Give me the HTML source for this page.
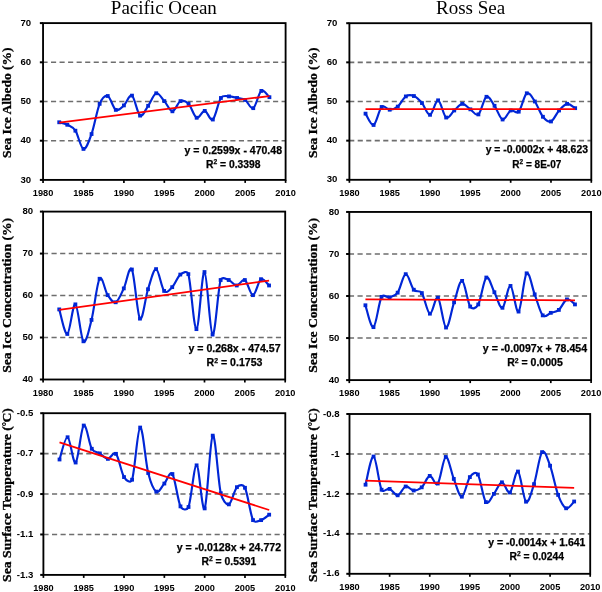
<!DOCTYPE html>
<html><head><meta charset="utf-8"><style>
html,body{margin:0;padding:0;background:#fff;}
svg{display:block;will-change:transform;}
</style></head><body>
<svg width="602" height="592" viewBox="0 0 602 592">
<rect width="602" height="592" fill="#fff"/>
<text x="163.85" y="13.5" font-family="Liberation Serif, serif" font-size="19" text-anchor="middle">Pacific Ocean</text>
<text x="470.6" y="13.5" font-family="Liberation Serif, serif" font-size="19" text-anchor="middle">Ross Sea</text>
<g><line x1="43.05" y1="62.3" x2="285.1" y2="62.3" stroke="#6e6e6e" stroke-width="1.6" stroke-dasharray="5.12 3.42" stroke-dashoffset="0.59"/><line x1="43.05" y1="101.5" x2="285.1" y2="101.5" stroke="#6e6e6e" stroke-width="1.6" stroke-dasharray="5.12 3.42" stroke-dashoffset="0.59"/><line x1="43.05" y1="140.7" x2="285.1" y2="140.7" stroke="#6e6e6e" stroke-width="1.6" stroke-dasharray="5.12 3.42" stroke-dashoffset="0.59"/><line x1="39.85" y1="23.1" x2="43.05" y2="23.1" stroke="#000" stroke-width="2"/><line x1="39.85" y1="62.3" x2="43.05" y2="62.3" stroke="#000" stroke-width="2"/><line x1="39.85" y1="101.5" x2="43.05" y2="101.5" stroke="#000" stroke-width="2"/><line x1="39.85" y1="140.7" x2="43.05" y2="140.7" stroke="#000" stroke-width="2"/><line x1="39.85" y1="179.9" x2="43.05" y2="179.9" stroke="#000" stroke-width="2"/><line x1="43.05" y1="179.9" x2="43.05" y2="182.9" stroke="#000" stroke-width="1.7"/><line x1="83.47" y1="179.9" x2="83.47" y2="182.9" stroke="#000" stroke-width="1.7"/><line x1="123.9" y1="179.9" x2="123.9" y2="182.9" stroke="#000" stroke-width="1.7"/><line x1="164.32" y1="179.9" x2="164.32" y2="182.9" stroke="#000" stroke-width="1.7"/><line x1="204.75" y1="179.9" x2="204.75" y2="182.9" stroke="#000" stroke-width="1.7"/><line x1="245.18" y1="179.9" x2="245.18" y2="182.9" stroke="#000" stroke-width="1.7"/><line x1="285.6" y1="179.9" x2="285.6" y2="182.9" stroke="#000" stroke-width="1.7"/><path d="M59.22,122.28 C60.57,122.69 64.61,123.38 67.31,124.78 C70,126.19 72.7,126.68 75.39,130.7 C78.08,134.73 80.78,148.38 83.47,148.93 C86.17,149.49 88.86,141.55 91.56,134.04 C94.26,126.52 96.95,110.19 99.65,103.85 C101.85,98.67 105.03,95.01 107.73,96.01 C110.43,97.02 113.12,108.32 115.82,109.89 C118.51,111.46 121.2,107.8 123.9,105.42 C126.59,103.04 129.29,93.92 131.99,95.62 C134.68,97.32 137.38,113.91 140.07,115.61 C142.76,117.31 145.46,109.54 148.16,105.81 C150.85,102.09 153.55,94.05 156.24,93.27 C158.94,92.48 161.63,98.1 164.32,101.11 C167.02,104.11 169.72,111.3 172.41,111.3 C175.11,111.3 177.8,102.35 180.5,101.11 C183.19,99.87 185.89,101.08 188.58,103.85 C191.28,106.63 193.97,116.59 196.66,117.77 C199.36,118.94 202.06,110.61 204.75,110.91 C207.44,111.2 210.14,121.69 212.83,119.53 C215.53,117.38 218.23,101.83 220.92,97.97 C223.28,94.6 226.31,96.4 229,96.4 C231.7,96.4 234.4,97.38 237.09,97.97 C239.79,98.56 242.48,98.23 245.18,99.93 C247.87,101.63 250.56,109.67 253.26,108.16 C255.95,106.66 258.65,92.75 261.35,90.92 C264.04,89.09 268.08,96.14 269.43,97.19" fill="none" stroke="#0026d6" stroke-width="2.15" stroke-linejoin="round"/><rect x="57.32" y="120.38" width="3.8" height="3.8" fill="#0026d6"/><rect x="65.41" y="122.88" width="3.8" height="3.8" fill="#0026d6"/><rect x="73.49" y="128.8" width="3.8" height="3.8" fill="#0026d6"/><rect x="81.57" y="147.03" width="3.8" height="3.8" fill="#0026d6"/><rect x="89.66" y="132.14" width="3.8" height="3.8" fill="#0026d6"/><rect x="97.75" y="101.95" width="3.8" height="3.8" fill="#0026d6"/><rect x="105.83" y="94.11" width="3.8" height="3.8" fill="#0026d6"/><rect x="113.92" y="107.99" width="3.8" height="3.8" fill="#0026d6"/><rect x="122" y="103.52" width="3.8" height="3.8" fill="#0026d6"/><rect x="130.09" y="93.72" width="3.8" height="3.8" fill="#0026d6"/><rect x="138.17" y="113.71" width="3.8" height="3.8" fill="#0026d6"/><rect x="146.25" y="103.91" width="3.8" height="3.8" fill="#0026d6"/><rect x="154.34" y="91.37" width="3.8" height="3.8" fill="#0026d6"/><rect x="162.42" y="99.21" width="3.8" height="3.8" fill="#0026d6"/><rect x="170.51" y="109.4" width="3.8" height="3.8" fill="#0026d6"/><rect x="178.59" y="99.21" width="3.8" height="3.8" fill="#0026d6"/><rect x="186.68" y="101.95" width="3.8" height="3.8" fill="#0026d6"/><rect x="194.76" y="115.87" width="3.8" height="3.8" fill="#0026d6"/><rect x="202.85" y="109.01" width="3.8" height="3.8" fill="#0026d6"/><rect x="210.93" y="117.63" width="3.8" height="3.8" fill="#0026d6"/><rect x="219.02" y="96.07" width="3.8" height="3.8" fill="#0026d6"/><rect x="227.1" y="94.5" width="3.8" height="3.8" fill="#0026d6"/><rect x="235.19" y="96.07" width="3.8" height="3.8" fill="#0026d6"/><rect x="243.28" y="98.03" width="3.8" height="3.8" fill="#0026d6"/><rect x="251.36" y="106.26" width="3.8" height="3.8" fill="#0026d6"/><rect x="259.45" y="89.02" width="3.8" height="3.8" fill="#0026d6"/><rect x="267.53" y="95.29" width="3.8" height="3.8" fill="#0026d6"/><line x1="59.22" y1="122.55" x2="269.43" y2="96.05" stroke="#ff0000" stroke-width="1.75"/><rect x="43.05" y="23.1" width="242.55" height="156.8" fill="none" stroke="#000" stroke-width="1.85"/><text x="31.05" y="25.7" font-family="Liberation Sans, sans-serif" font-weight="bold" font-size="9.6" text-anchor="end">70</text><text x="31.05" y="64.9" font-family="Liberation Sans, sans-serif" font-weight="bold" font-size="9.6" text-anchor="end">60</text><text x="31.05" y="104.1" font-family="Liberation Sans, sans-serif" font-weight="bold" font-size="9.6" text-anchor="end">50</text><text x="31.05" y="143.3" font-family="Liberation Sans, sans-serif" font-weight="bold" font-size="9.6" text-anchor="end">40</text><text x="31.05" y="182.5" font-family="Liberation Sans, sans-serif" font-weight="bold" font-size="9.6" text-anchor="end">30</text><text x="43.05" y="196.1" font-family="Liberation Sans, sans-serif" font-weight="bold" font-size="9.2" text-anchor="middle">1980</text><text x="83.47" y="196.1" font-family="Liberation Sans, sans-serif" font-weight="bold" font-size="9.2" text-anchor="middle">1985</text><text x="123.9" y="196.1" font-family="Liberation Sans, sans-serif" font-weight="bold" font-size="9.2" text-anchor="middle">1990</text><text x="164.32" y="196.1" font-family="Liberation Sans, sans-serif" font-weight="bold" font-size="9.2" text-anchor="middle">1995</text><text x="204.75" y="196.1" font-family="Liberation Sans, sans-serif" font-weight="bold" font-size="9.2" text-anchor="middle">2000</text><text x="245.18" y="196.1" font-family="Liberation Sans, sans-serif" font-weight="bold" font-size="9.2" text-anchor="middle">2005</text><text x="285.6" y="196.1" font-family="Liberation Sans, sans-serif" font-weight="bold" font-size="9.2" text-anchor="middle">2010</text><text x="233.3" y="153.5" font-family="Liberation Sans, sans-serif" font-weight="bold" font-size="10.2" stroke="#000" stroke-width="0.25" text-anchor="middle" textLength="97.4" lengthAdjust="spacingAndGlyphs">y = 0.2599x - 470.48</text><text x="233.3" y="168" font-family="Liberation Sans, sans-serif" font-weight="bold" font-size="10.2" stroke="#000" stroke-width="0.25" text-anchor="middle" textLength="54.5" lengthAdjust="spacingAndGlyphs">R<tspan font-size="6.6" dy="-3.6">2</tspan><tspan dy="3.6"> =  0.3398</tspan></text><text transform="translate(10.8,102.7) rotate(-90)" font-family="Liberation Serif, serif" font-weight="bold" font-size="13" stroke="#000" stroke-width="0.3" text-anchor="middle" textLength="110.6" lengthAdjust="spacingAndGlyphs">Sea Ice Albedo (%)</text></g>
<g><line x1="349.4" y1="62.35" x2="590.8" y2="62.35" stroke="#6e6e6e" stroke-width="1.6" stroke-dasharray="5.11 3.4" stroke-dashoffset="0.21"/><line x1="349.4" y1="101.5" x2="590.8" y2="101.5" stroke="#6e6e6e" stroke-width="1.6" stroke-dasharray="5.11 3.4" stroke-dashoffset="0.21"/><line x1="349.4" y1="140.65" x2="590.8" y2="140.65" stroke="#6e6e6e" stroke-width="1.6" stroke-dasharray="5.11 3.4" stroke-dashoffset="0.21"/><line x1="346.2" y1="23.2" x2="349.4" y2="23.2" stroke="#000" stroke-width="2"/><line x1="346.2" y1="62.35" x2="349.4" y2="62.35" stroke="#000" stroke-width="2"/><line x1="346.2" y1="101.5" x2="349.4" y2="101.5" stroke="#000" stroke-width="2"/><line x1="346.2" y1="140.65" x2="349.4" y2="140.65" stroke="#000" stroke-width="2"/><line x1="346.2" y1="179.8" x2="349.4" y2="179.8" stroke="#000" stroke-width="2"/><line x1="349.4" y1="179.8" x2="349.4" y2="182.8" stroke="#000" stroke-width="1.7"/><line x1="389.72" y1="179.8" x2="389.72" y2="182.8" stroke="#000" stroke-width="1.7"/><line x1="430.03" y1="179.8" x2="430.03" y2="182.8" stroke="#000" stroke-width="1.7"/><line x1="470.35" y1="179.8" x2="470.35" y2="182.8" stroke="#000" stroke-width="1.7"/><line x1="510.67" y1="179.8" x2="510.67" y2="182.8" stroke="#000" stroke-width="1.7"/><line x1="550.98" y1="179.8" x2="550.98" y2="182.8" stroke="#000" stroke-width="1.7"/><line x1="591.3" y1="179.8" x2="591.3" y2="182.8" stroke="#000" stroke-width="1.7"/><path d="M365.53,113.64 C366.87,115.53 370.9,126.1 373.59,124.99 C376.28,123.88 378.97,109.53 381.65,106.98 C384.34,104.44 387.03,109.79 389.72,109.72 C392.4,109.66 395.09,108.81 397.78,106.59 C400.47,104.37 403.16,98.17 405.84,96.41 C408.53,94.65 411.22,94.91 413.91,96.02 C416.59,97.13 419.28,99.93 421.97,103.07 C424.66,106.2 427.35,115.27 430.03,114.81 C432.72,114.35 435.41,99.87 438.1,100.33 C440.78,100.78 443.47,115.86 446.16,117.55 C448.85,119.25 451.54,112.79 454.22,110.5 C456.91,108.22 459.6,104.04 462.29,103.85 C464.97,103.65 467.66,107.57 470.35,109.33 C473.04,111.09 475.73,116.51 478.41,114.42 C481.1,112.33 483.79,98.24 486.48,96.8 C489.16,95.37 491.85,102.02 494.54,105.81 C497.23,109.59 499.92,118.73 502.6,119.51 C505.29,120.29 507.98,111.81 510.67,110.5 C513.35,109.2 516.04,114.55 518.73,111.68 C521.42,108.81 524.11,94.98 526.79,93.28 C529.48,91.58 532.17,97.59 534.86,101.5 C537.54,105.42 540.23,113.44 542.92,116.77 C545.61,120.1 548.3,122.51 550.98,121.47 C553.67,120.42 556.36,113.44 559.05,110.5 C561.73,107.57 564.42,104.24 567.11,103.85 C569.8,103.46 573.83,107.44 575.17,108.16" fill="none" stroke="#0026d6" stroke-width="2.15" stroke-linejoin="round"/><rect x="363.63" y="111.74" width="3.8" height="3.8" fill="#0026d6"/><rect x="371.69" y="123.09" width="3.8" height="3.8" fill="#0026d6"/><rect x="379.75" y="105.08" width="3.8" height="3.8" fill="#0026d6"/><rect x="387.82" y="107.82" width="3.8" height="3.8" fill="#0026d6"/><rect x="395.88" y="104.69" width="3.8" height="3.8" fill="#0026d6"/><rect x="403.94" y="94.51" width="3.8" height="3.8" fill="#0026d6"/><rect x="412.01" y="94.12" width="3.8" height="3.8" fill="#0026d6"/><rect x="420.07" y="101.17" width="3.8" height="3.8" fill="#0026d6"/><rect x="428.13" y="112.91" width="3.8" height="3.8" fill="#0026d6"/><rect x="436.2" y="98.43" width="3.8" height="3.8" fill="#0026d6"/><rect x="444.26" y="115.65" width="3.8" height="3.8" fill="#0026d6"/><rect x="452.32" y="108.6" width="3.8" height="3.8" fill="#0026d6"/><rect x="460.39" y="101.95" width="3.8" height="3.8" fill="#0026d6"/><rect x="468.45" y="107.43" width="3.8" height="3.8" fill="#0026d6"/><rect x="476.51" y="112.52" width="3.8" height="3.8" fill="#0026d6"/><rect x="484.58" y="94.9" width="3.8" height="3.8" fill="#0026d6"/><rect x="492.64" y="103.91" width="3.8" height="3.8" fill="#0026d6"/><rect x="500.7" y="117.61" width="3.8" height="3.8" fill="#0026d6"/><rect x="508.77" y="108.6" width="3.8" height="3.8" fill="#0026d6"/><rect x="516.83" y="109.78" width="3.8" height="3.8" fill="#0026d6"/><rect x="524.89" y="91.38" width="3.8" height="3.8" fill="#0026d6"/><rect x="532.96" y="99.6" width="3.8" height="3.8" fill="#0026d6"/><rect x="541.02" y="114.87" width="3.8" height="3.8" fill="#0026d6"/><rect x="549.08" y="119.57" width="3.8" height="3.8" fill="#0026d6"/><rect x="557.15" y="108.6" width="3.8" height="3.8" fill="#0026d6"/><rect x="565.21" y="101.95" width="3.8" height="3.8" fill="#0026d6"/><rect x="573.27" y="106.26" width="3.8" height="3.8" fill="#0026d6"/><line x1="365.53" y1="109.21" x2="575.17" y2="109.23" stroke="#ff0000" stroke-width="1.75"/><rect x="349.4" y="23.2" width="241.9" height="156.6" fill="none" stroke="#000" stroke-width="1.85"/><text x="337.4" y="25.8" font-family="Liberation Sans, sans-serif" font-weight="bold" font-size="9.6" text-anchor="end">70</text><text x="337.4" y="64.95" font-family="Liberation Sans, sans-serif" font-weight="bold" font-size="9.6" text-anchor="end">60</text><text x="337.4" y="104.1" font-family="Liberation Sans, sans-serif" font-weight="bold" font-size="9.6" text-anchor="end">50</text><text x="337.4" y="143.25" font-family="Liberation Sans, sans-serif" font-weight="bold" font-size="9.6" text-anchor="end">40</text><text x="337.4" y="182.4" font-family="Liberation Sans, sans-serif" font-weight="bold" font-size="9.6" text-anchor="end">30</text><text x="349.4" y="196.1" font-family="Liberation Sans, sans-serif" font-weight="bold" font-size="9.2" text-anchor="middle">1980</text><text x="389.72" y="196.1" font-family="Liberation Sans, sans-serif" font-weight="bold" font-size="9.2" text-anchor="middle">1985</text><text x="430.03" y="196.1" font-family="Liberation Sans, sans-serif" font-weight="bold" font-size="9.2" text-anchor="middle">1990</text><text x="470.35" y="196.1" font-family="Liberation Sans, sans-serif" font-weight="bold" font-size="9.2" text-anchor="middle">1995</text><text x="510.67" y="196.1" font-family="Liberation Sans, sans-serif" font-weight="bold" font-size="9.2" text-anchor="middle">2000</text><text x="550.98" y="196.1" font-family="Liberation Sans, sans-serif" font-weight="bold" font-size="9.2" text-anchor="middle">2005</text><text x="591.3" y="196.1" font-family="Liberation Sans, sans-serif" font-weight="bold" font-size="9.2" text-anchor="middle">2010</text><text x="536.8" y="153.4" font-family="Liberation Sans, sans-serif" font-weight="bold" font-size="10.2" stroke="#000" stroke-width="0.25" text-anchor="middle" textLength="102.3" lengthAdjust="spacingAndGlyphs">y = -0.0002x + 48.623</text><text x="536.8" y="168" font-family="Liberation Sans, sans-serif" font-weight="bold" font-size="10.2" stroke="#000" stroke-width="0.25" text-anchor="middle" textLength="49" lengthAdjust="spacingAndGlyphs">R<tspan font-size="6.6" dy="-3.6">2</tspan><tspan dy="3.6"> =  8E-07</tspan></text><text transform="translate(316.9,102.7) rotate(-90)" font-family="Liberation Serif, serif" font-weight="bold" font-size="13" stroke="#000" stroke-width="0.3" text-anchor="middle" textLength="110.6" lengthAdjust="spacingAndGlyphs">Sea Ice Albedo (%)</text></g>
<g><line x1="43.1" y1="253.57" x2="284.7" y2="253.57" stroke="#6e6e6e" stroke-width="1.6" stroke-dasharray="5.18 3.45" stroke-dashoffset="0.23"/><line x1="43.1" y1="295.55" x2="284.7" y2="295.55" stroke="#6e6e6e" stroke-width="1.6" stroke-dasharray="5.18 3.45" stroke-dashoffset="0.23"/><line x1="43.1" y1="337.52" x2="284.7" y2="337.52" stroke="#6e6e6e" stroke-width="1.6" stroke-dasharray="5.18 3.45" stroke-dashoffset="0.23"/><line x1="39.9" y1="211.6" x2="43.1" y2="211.6" stroke="#000" stroke-width="2"/><line x1="39.9" y1="253.57" x2="43.1" y2="253.57" stroke="#000" stroke-width="2"/><line x1="39.9" y1="295.55" x2="43.1" y2="295.55" stroke="#000" stroke-width="2"/><line x1="39.9" y1="337.52" x2="43.1" y2="337.52" stroke="#000" stroke-width="2"/><line x1="39.9" y1="379.5" x2="43.1" y2="379.5" stroke="#000" stroke-width="2"/><line x1="43.1" y1="379.5" x2="43.1" y2="382.5" stroke="#000" stroke-width="1.7"/><line x1="83.45" y1="379.5" x2="83.45" y2="382.5" stroke="#000" stroke-width="1.7"/><line x1="123.8" y1="379.5" x2="123.8" y2="382.5" stroke="#000" stroke-width="1.7"/><line x1="164.15" y1="379.5" x2="164.15" y2="382.5" stroke="#000" stroke-width="1.7"/><line x1="204.5" y1="379.5" x2="204.5" y2="382.5" stroke="#000" stroke-width="1.7"/><line x1="244.85" y1="379.5" x2="244.85" y2="382.5" stroke="#000" stroke-width="1.7"/><line x1="285.2" y1="379.5" x2="285.2" y2="382.5" stroke="#000" stroke-width="1.7"/><path d="M59.24,309.4 C60.59,313.49 64.62,334.8 67.31,333.96 C70,333.12 72.69,303.14 75.38,304.36 C78.07,305.59 80.76,338.71 83.45,341.3 C86.14,343.89 88.83,330.32 91.52,319.9 C94.21,309.47 96.9,282.89 99.59,278.76 C102.28,274.63 104.97,291.21 107.66,295.13 C110.35,299.05 113.04,303.39 115.73,302.27 C118.42,301.15 121.11,293.87 123.8,288.41 C126.49,282.96 129.18,264.49 131.87,269.53 C134.56,274.56 137.25,315.35 139.94,318.64 C142.63,321.92 145.32,297.51 148.01,289.25 C150.7,281 153.39,268.83 156.08,269.11 C158.77,269.39 161.46,287.92 164.15,290.93 C166.84,293.94 169.53,289.88 172.22,287.15 C174.91,284.43 177.6,276.73 180.29,274.56 C182.98,272.39 187.21,270.27 188.36,274.14 C191.05,283.24 193.74,329.48 196.43,329.13 C199.12,328.78 201.81,271.13 204.5,272.04 C207.19,272.95 209.88,333.26 212.57,334.59 C215.26,335.92 217.95,289.11 220.64,280.02 C221.78,276.15 226.02,279.11 228.71,280.02 C231.4,280.93 234.09,285.48 236.78,285.48 C239.47,285.48 242.16,278.41 244.85,280.02 C247.54,281.63 250.23,295.27 252.92,295.13 C255.61,294.99 258.3,280.79 260.99,279.18 C263.68,277.57 267.72,284.43 269.06,285.48" fill="none" stroke="#0026d6" stroke-width="2.15" stroke-linejoin="round"/><rect x="57.34" y="307.5" width="3.8" height="3.8" fill="#0026d6"/><rect x="65.41" y="332.06" width="3.8" height="3.8" fill="#0026d6"/><rect x="73.48" y="302.46" width="3.8" height="3.8" fill="#0026d6"/><rect x="81.55" y="339.4" width="3.8" height="3.8" fill="#0026d6"/><rect x="89.62" y="318" width="3.8" height="3.8" fill="#0026d6"/><rect x="97.69" y="276.86" width="3.8" height="3.8" fill="#0026d6"/><rect x="105.76" y="293.23" width="3.8" height="3.8" fill="#0026d6"/><rect x="113.83" y="300.37" width="3.8" height="3.8" fill="#0026d6"/><rect x="121.9" y="286.51" width="3.8" height="3.8" fill="#0026d6"/><rect x="129.97" y="267.63" width="3.8" height="3.8" fill="#0026d6"/><rect x="138.04" y="316.74" width="3.8" height="3.8" fill="#0026d6"/><rect x="146.11" y="287.35" width="3.8" height="3.8" fill="#0026d6"/><rect x="154.18" y="267.21" width="3.8" height="3.8" fill="#0026d6"/><rect x="162.25" y="289.03" width="3.8" height="3.8" fill="#0026d6"/><rect x="170.32" y="285.25" width="3.8" height="3.8" fill="#0026d6"/><rect x="178.39" y="272.66" width="3.8" height="3.8" fill="#0026d6"/><rect x="186.46" y="272.24" width="3.8" height="3.8" fill="#0026d6"/><rect x="194.53" y="327.23" width="3.8" height="3.8" fill="#0026d6"/><rect x="202.6" y="270.14" width="3.8" height="3.8" fill="#0026d6"/><rect x="210.67" y="332.69" width="3.8" height="3.8" fill="#0026d6"/><rect x="218.74" y="278.12" width="3.8" height="3.8" fill="#0026d6"/><rect x="226.81" y="278.12" width="3.8" height="3.8" fill="#0026d6"/><rect x="234.88" y="283.58" width="3.8" height="3.8" fill="#0026d6"/><rect x="242.95" y="278.12" width="3.8" height="3.8" fill="#0026d6"/><rect x="251.02" y="293.23" width="3.8" height="3.8" fill="#0026d6"/><rect x="259.09" y="277.28" width="3.8" height="3.8" fill="#0026d6"/><rect x="267.16" y="283.58" width="3.8" height="3.8" fill="#0026d6"/><line x1="59.24" y1="309.8" x2="269.06" y2="280.55" stroke="#ff0000" stroke-width="1.75"/><rect x="43.1" y="211.6" width="242.1" height="167.9" fill="none" stroke="#000" stroke-width="1.85"/><text x="33.1" y="214.2" font-family="Liberation Sans, sans-serif" font-weight="bold" font-size="9.6" text-anchor="end">80</text><text x="33.1" y="256.18" font-family="Liberation Sans, sans-serif" font-weight="bold" font-size="9.6" text-anchor="end">70</text><text x="33.1" y="298.15" font-family="Liberation Sans, sans-serif" font-weight="bold" font-size="9.6" text-anchor="end">60</text><text x="33.1" y="340.12" font-family="Liberation Sans, sans-serif" font-weight="bold" font-size="9.6" text-anchor="end">50</text><text x="33.1" y="382.1" font-family="Liberation Sans, sans-serif" font-weight="bold" font-size="9.6" text-anchor="end">40</text><text x="43.1" y="395.7" font-family="Liberation Sans, sans-serif" font-weight="bold" font-size="9.2" text-anchor="middle">1980</text><text x="83.45" y="395.7" font-family="Liberation Sans, sans-serif" font-weight="bold" font-size="9.2" text-anchor="middle">1985</text><text x="123.8" y="395.7" font-family="Liberation Sans, sans-serif" font-weight="bold" font-size="9.2" text-anchor="middle">1990</text><text x="164.15" y="395.7" font-family="Liberation Sans, sans-serif" font-weight="bold" font-size="9.2" text-anchor="middle">1995</text><text x="204.5" y="395.7" font-family="Liberation Sans, sans-serif" font-weight="bold" font-size="9.2" text-anchor="middle">2000</text><text x="244.85" y="395.7" font-family="Liberation Sans, sans-serif" font-weight="bold" font-size="9.2" text-anchor="middle">2005</text><text x="285.2" y="395.7" font-family="Liberation Sans, sans-serif" font-weight="bold" font-size="9.2" text-anchor="middle">2010</text><text x="234.5" y="351.6" font-family="Liberation Sans, sans-serif" font-weight="bold" font-size="10.2" stroke="#000" stroke-width="0.25" text-anchor="middle" textLength="92.1" lengthAdjust="spacingAndGlyphs">y = 0.268x - 474.57</text><text x="234.5" y="366.1" font-family="Liberation Sans, sans-serif" font-weight="bold" font-size="10.2" stroke="#000" stroke-width="0.25" text-anchor="middle" textLength="55.9" lengthAdjust="spacingAndGlyphs">R<tspan font-size="6.6" dy="-3.6">2</tspan><tspan dy="3.6"> =  0.1753</tspan></text><text transform="translate(10.8,295.35) rotate(-90)" font-family="Liberation Serif, serif" font-weight="bold" font-size="13" stroke="#000" stroke-width="0.3" text-anchor="middle" textLength="154.9" lengthAdjust="spacingAndGlyphs">Sea Ice Concentration (%)</text></g>
<g><line x1="349.3" y1="253.99" x2="590.6" y2="253.99" stroke="#6e6e6e" stroke-width="1.6" stroke-dasharray="5.18 3.45" stroke-dashoffset="0.43"/><line x1="349.3" y1="296.02" x2="590.6" y2="296.02" stroke="#6e6e6e" stroke-width="1.6" stroke-dasharray="5.18 3.45" stroke-dashoffset="0.43"/><line x1="349.3" y1="338.06" x2="590.6" y2="338.06" stroke="#6e6e6e" stroke-width="1.6" stroke-dasharray="5.18 3.45" stroke-dashoffset="0.43"/><line x1="346.1" y1="211.95" x2="349.3" y2="211.95" stroke="#000" stroke-width="2"/><line x1="346.1" y1="253.99" x2="349.3" y2="253.99" stroke="#000" stroke-width="2"/><line x1="346.1" y1="296.02" x2="349.3" y2="296.02" stroke="#000" stroke-width="2"/><line x1="346.1" y1="338.06" x2="349.3" y2="338.06" stroke="#000" stroke-width="2"/><line x1="346.1" y1="380.1" x2="349.3" y2="380.1" stroke="#000" stroke-width="2"/><line x1="349.3" y1="380.1" x2="349.3" y2="383.1" stroke="#000" stroke-width="1.7"/><line x1="389.6" y1="380.1" x2="389.6" y2="383.1" stroke="#000" stroke-width="1.7"/><line x1="429.9" y1="380.1" x2="429.9" y2="383.1" stroke="#000" stroke-width="1.7"/><line x1="470.2" y1="380.1" x2="470.2" y2="383.1" stroke="#000" stroke-width="1.7"/><line x1="510.5" y1="380.1" x2="510.5" y2="383.1" stroke="#000" stroke-width="1.7"/><line x1="550.8" y1="380.1" x2="550.8" y2="383.1" stroke="#000" stroke-width="1.7"/><line x1="591.1" y1="380.1" x2="591.1" y2="383.1" stroke="#000" stroke-width="1.7"/><path d="M365.42,305.27 C366.76,308.92 370.79,328.53 373.48,327.13 C376.17,325.73 378.85,301.84 381.54,296.87 C383.46,293.32 386.91,297.99 389.6,297.29 C392.29,296.59 395,296.47 397.66,292.66 C400.35,288.81 403.03,274.66 405.72,274.17 C408.41,273.68 411.09,286.57 413.78,289.72 C416.47,292.87 419.4,289.46 421.84,293.08 C424.53,297.08 427.21,312.91 429.9,313.68 C432.59,314.45 435.27,295.39 437.96,297.71 C440.65,300.02 443.33,326.78 446.02,327.55 C448.71,328.32 451.39,310.11 454.08,302.33 C456.77,294.55 459.45,280.19 462.14,280.89 C464.83,281.59 467.51,302.61 470.2,306.53 C472.55,309.97 476.24,308.07 478.26,304.43 C480.95,299.6 483.63,279.56 486.32,277.53 C489.01,275.5 491.69,287.2 494.38,292.24 C497.07,297.29 499.75,308.85 502.44,307.8 C505.13,306.74 507.81,285.31 510.5,285.94 C513.19,286.57 515.87,313.68 518.56,311.58 C521.25,309.48 523.93,276.2 526.62,273.32 C529.31,270.45 531.99,287.34 534.68,294.34 C537.37,301.35 540.05,312.28 542.74,315.36 C545.43,318.45 548.11,313.75 550.8,312.84 C553.49,311.93 556.17,312.14 558.86,309.9 C561.55,307.66 564.23,300.3 566.92,299.39 C569.61,298.48 573.64,303.59 574.98,304.43" fill="none" stroke="#0026d6" stroke-width="2.15" stroke-linejoin="round"/><rect x="363.52" y="303.37" width="3.8" height="3.8" fill="#0026d6"/><rect x="371.58" y="325.23" width="3.8" height="3.8" fill="#0026d6"/><rect x="379.64" y="294.97" width="3.8" height="3.8" fill="#0026d6"/><rect x="387.7" y="295.39" width="3.8" height="3.8" fill="#0026d6"/><rect x="395.76" y="290.76" width="3.8" height="3.8" fill="#0026d6"/><rect x="403.82" y="272.27" width="3.8" height="3.8" fill="#0026d6"/><rect x="411.88" y="287.82" width="3.8" height="3.8" fill="#0026d6"/><rect x="419.94" y="291.18" width="3.8" height="3.8" fill="#0026d6"/><rect x="428" y="311.78" width="3.8" height="3.8" fill="#0026d6"/><rect x="436.06" y="295.81" width="3.8" height="3.8" fill="#0026d6"/><rect x="444.12" y="325.65" width="3.8" height="3.8" fill="#0026d6"/><rect x="452.18" y="300.43" width="3.8" height="3.8" fill="#0026d6"/><rect x="460.24" y="278.99" width="3.8" height="3.8" fill="#0026d6"/><rect x="468.3" y="304.63" width="3.8" height="3.8" fill="#0026d6"/><rect x="476.36" y="302.53" width="3.8" height="3.8" fill="#0026d6"/><rect x="484.42" y="275.63" width="3.8" height="3.8" fill="#0026d6"/><rect x="492.48" y="290.34" width="3.8" height="3.8" fill="#0026d6"/><rect x="500.54" y="305.9" width="3.8" height="3.8" fill="#0026d6"/><rect x="508.6" y="284.04" width="3.8" height="3.8" fill="#0026d6"/><rect x="516.66" y="309.68" width="3.8" height="3.8" fill="#0026d6"/><rect x="524.72" y="271.42" width="3.8" height="3.8" fill="#0026d6"/><rect x="532.78" y="292.44" width="3.8" height="3.8" fill="#0026d6"/><rect x="540.84" y="313.46" width="3.8" height="3.8" fill="#0026d6"/><rect x="548.9" y="310.94" width="3.8" height="3.8" fill="#0026d6"/><rect x="556.96" y="308" width="3.8" height="3.8" fill="#0026d6"/><rect x="565.02" y="297.49" width="3.8" height="3.8" fill="#0026d6"/><rect x="573.08" y="302.53" width="3.8" height="3.8" fill="#0026d6"/><line x1="365.42" y1="299.27" x2="574.98" y2="300.33" stroke="#ff0000" stroke-width="1.75"/><rect x="349.3" y="211.95" width="241.8" height="168.15" fill="none" stroke="#000" stroke-width="1.85"/><text x="339.3" y="214.55" font-family="Liberation Sans, sans-serif" font-weight="bold" font-size="9.6" text-anchor="end">80</text><text x="339.3" y="256.59" font-family="Liberation Sans, sans-serif" font-weight="bold" font-size="9.6" text-anchor="end">70</text><text x="339.3" y="298.62" font-family="Liberation Sans, sans-serif" font-weight="bold" font-size="9.6" text-anchor="end">60</text><text x="339.3" y="340.66" font-family="Liberation Sans, sans-serif" font-weight="bold" font-size="9.6" text-anchor="end">50</text><text x="339.3" y="382.7" font-family="Liberation Sans, sans-serif" font-weight="bold" font-size="9.6" text-anchor="end">40</text><text x="349.3" y="395.7" font-family="Liberation Sans, sans-serif" font-weight="bold" font-size="9.2" text-anchor="middle">1980</text><text x="389.6" y="395.7" font-family="Liberation Sans, sans-serif" font-weight="bold" font-size="9.2" text-anchor="middle">1985</text><text x="429.9" y="395.7" font-family="Liberation Sans, sans-serif" font-weight="bold" font-size="9.2" text-anchor="middle">1990</text><text x="470.2" y="395.7" font-family="Liberation Sans, sans-serif" font-weight="bold" font-size="9.2" text-anchor="middle">1995</text><text x="510.5" y="395.7" font-family="Liberation Sans, sans-serif" font-weight="bold" font-size="9.2" text-anchor="middle">2000</text><text x="550.8" y="395.7" font-family="Liberation Sans, sans-serif" font-weight="bold" font-size="9.2" text-anchor="middle">2005</text><text x="591.1" y="395.7" font-family="Liberation Sans, sans-serif" font-weight="bold" font-size="9.2" text-anchor="middle">2010</text><text x="535" y="351.6" font-family="Liberation Sans, sans-serif" font-weight="bold" font-size="10.2" stroke="#000" stroke-width="0.25" text-anchor="middle" textLength="104.3" lengthAdjust="spacingAndGlyphs">y = -0.0097x + 78.454</text><text x="535" y="366.1" font-family="Liberation Sans, sans-serif" font-weight="bold" font-size="10.2" stroke="#000" stroke-width="0.25" text-anchor="middle" textLength="55.5" lengthAdjust="spacingAndGlyphs">R<tspan font-size="6.6" dy="-3.6">2</tspan><tspan dy="3.6"> =  0.0005</tspan></text><text transform="translate(316.9,295.35) rotate(-90)" font-family="Liberation Serif, serif" font-weight="bold" font-size="13" stroke="#000" stroke-width="0.3" text-anchor="middle" textLength="154.9" lengthAdjust="spacingAndGlyphs">Sea Ice Concentration (%)</text></g>
<g><line x1="43.4" y1="453.62" x2="284.8" y2="453.62" stroke="#6e6e6e" stroke-width="1.6" stroke-dasharray="5.14 3.42" stroke-dashoffset="8.52"/><line x1="43.4" y1="494.05" x2="284.8" y2="494.05" stroke="#6e6e6e" stroke-width="1.6" stroke-dasharray="5.14 3.42" stroke-dashoffset="8.52"/><line x1="43.4" y1="534.48" x2="284.8" y2="534.48" stroke="#6e6e6e" stroke-width="1.6" stroke-dasharray="5.14 3.42" stroke-dashoffset="8.52"/><line x1="40.2" y1="413.2" x2="43.4" y2="413.2" stroke="#000" stroke-width="2"/><line x1="40.2" y1="453.62" x2="43.4" y2="453.62" stroke="#000" stroke-width="2"/><line x1="40.2" y1="494.05" x2="43.4" y2="494.05" stroke="#000" stroke-width="2"/><line x1="40.2" y1="534.48" x2="43.4" y2="534.48" stroke="#000" stroke-width="2"/><line x1="40.2" y1="574.9" x2="43.4" y2="574.9" stroke="#000" stroke-width="2"/><line x1="43.4" y1="574.9" x2="43.4" y2="577.9" stroke="#000" stroke-width="1.7"/><line x1="83.72" y1="574.9" x2="83.72" y2="577.9" stroke="#000" stroke-width="1.7"/><line x1="124.03" y1="574.9" x2="124.03" y2="577.9" stroke="#000" stroke-width="1.7"/><line x1="164.35" y1="574.9" x2="164.35" y2="577.9" stroke="#000" stroke-width="1.7"/><line x1="204.67" y1="574.9" x2="204.67" y2="577.9" stroke="#000" stroke-width="1.7"/><line x1="244.98" y1="574.9" x2="244.98" y2="577.9" stroke="#000" stroke-width="1.7"/><line x1="285.3" y1="574.9" x2="285.3" y2="577.9" stroke="#000" stroke-width="1.7"/><path d="M59.53,459.49 C60.87,455.78 64.9,436.75 67.59,437.25 C70.28,437.76 72.97,464.47 75.65,462.52 C78.34,460.56 81.03,427.82 83.72,425.53 C86.4,423.24 89.09,444.13 91.78,448.77 C94.11,452.8 97.16,451.74 99.84,453.42 C102.53,455.11 105.22,458.81 107.91,458.88 C110.59,458.95 113.28,450.8 115.97,453.83 C118.66,456.86 121.35,472.76 124.03,477.07 C126.28,480.67 130.78,483.73 132.1,479.7 C134.78,471.45 137.47,428.66 140.16,427.55 C142.85,426.44 145.54,462.35 148.22,473.03 C150.7,482.86 153.6,489.87 156.29,491.62 C158.97,493.38 161.66,486.47 164.35,483.54 C167.04,480.61 169.73,470.23 172.41,474.04 C175.1,477.85 177.79,500.89 180.48,506.38 C182.25,510.01 187.06,510.75 188.54,506.99 C191.23,500.15 193.92,465.11 196.6,465.35 C199.29,465.58 201.98,513.35 204.67,508.4 C207.35,503.45 210.04,438.16 212.73,435.64 C215.42,433.11 218.11,481.79 220.79,493.24 C222.36,499.93 226.17,505.37 228.86,504.36 C231.54,503.35 234.23,489.94 236.92,487.18 C239.61,484.42 243.21,484.15 244.98,487.78 C247.67,493.28 250.36,514.73 253.05,520.12 C254.85,523.73 258.42,521.03 261.11,520.12 C263.8,519.21 267.83,515.58 269.17,514.67" fill="none" stroke="#0026d6" stroke-width="2.15" stroke-linejoin="round"/><rect x="57.63" y="457.59" width="3.8" height="3.8" fill="#0026d6"/><rect x="65.69" y="435.35" width="3.8" height="3.8" fill="#0026d6"/><rect x="73.75" y="460.62" width="3.8" height="3.8" fill="#0026d6"/><rect x="81.82" y="423.63" width="3.8" height="3.8" fill="#0026d6"/><rect x="89.88" y="446.87" width="3.8" height="3.8" fill="#0026d6"/><rect x="97.94" y="451.52" width="3.8" height="3.8" fill="#0026d6"/><rect x="106.01" y="456.98" width="3.8" height="3.8" fill="#0026d6"/><rect x="114.07" y="451.93" width="3.8" height="3.8" fill="#0026d6"/><rect x="122.13" y="475.17" width="3.8" height="3.8" fill="#0026d6"/><rect x="130.2" y="477.8" width="3.8" height="3.8" fill="#0026d6"/><rect x="138.26" y="425.65" width="3.8" height="3.8" fill="#0026d6"/><rect x="146.32" y="471.13" width="3.8" height="3.8" fill="#0026d6"/><rect x="154.39" y="489.72" width="3.8" height="3.8" fill="#0026d6"/><rect x="162.45" y="481.64" width="3.8" height="3.8" fill="#0026d6"/><rect x="170.51" y="472.14" width="3.8" height="3.8" fill="#0026d6"/><rect x="178.58" y="504.48" width="3.8" height="3.8" fill="#0026d6"/><rect x="186.64" y="505.09" width="3.8" height="3.8" fill="#0026d6"/><rect x="194.7" y="463.45" width="3.8" height="3.8" fill="#0026d6"/><rect x="202.77" y="506.5" width="3.8" height="3.8" fill="#0026d6"/><rect x="210.83" y="433.74" width="3.8" height="3.8" fill="#0026d6"/><rect x="218.89" y="491.34" width="3.8" height="3.8" fill="#0026d6"/><rect x="226.96" y="502.46" width="3.8" height="3.8" fill="#0026d6"/><rect x="235.02" y="485.28" width="3.8" height="3.8" fill="#0026d6"/><rect x="243.08" y="485.88" width="3.8" height="3.8" fill="#0026d6"/><rect x="251.15" y="518.22" width="3.8" height="3.8" fill="#0026d6"/><rect x="259.21" y="518.22" width="3.8" height="3.8" fill="#0026d6"/><rect x="267.27" y="512.77" width="3.8" height="3.8" fill="#0026d6"/><line x1="59.53" y1="442.31" x2="269.17" y2="510.02" stroke="#ff0000" stroke-width="1.75"/><rect x="43.4" y="413.2" width="241.9" height="161.7" fill="none" stroke="#000" stroke-width="1.85"/><text x="33.4" y="415.8" font-family="Liberation Sans, sans-serif" font-weight="bold" font-size="9.6" text-anchor="end">-0.5</text><text x="33.4" y="456.23" font-family="Liberation Sans, sans-serif" font-weight="bold" font-size="9.6" text-anchor="end">-0.7</text><text x="33.4" y="496.65" font-family="Liberation Sans, sans-serif" font-weight="bold" font-size="9.6" text-anchor="end">-0.9</text><text x="33.4" y="537.08" font-family="Liberation Sans, sans-serif" font-weight="bold" font-size="9.6" text-anchor="end">-1.1</text><text x="33.4" y="577.5" font-family="Liberation Sans, sans-serif" font-weight="bold" font-size="9.6" text-anchor="end">-1.3</text><text x="43.4" y="591" font-family="Liberation Sans, sans-serif" font-weight="bold" font-size="9.2" text-anchor="middle">1980</text><text x="83.72" y="591" font-family="Liberation Sans, sans-serif" font-weight="bold" font-size="9.2" text-anchor="middle">1985</text><text x="124.03" y="591" font-family="Liberation Sans, sans-serif" font-weight="bold" font-size="9.2" text-anchor="middle">1990</text><text x="164.35" y="591" font-family="Liberation Sans, sans-serif" font-weight="bold" font-size="9.2" text-anchor="middle">1995</text><text x="204.67" y="591" font-family="Liberation Sans, sans-serif" font-weight="bold" font-size="9.2" text-anchor="middle">2000</text><text x="244.98" y="591" font-family="Liberation Sans, sans-serif" font-weight="bold" font-size="9.2" text-anchor="middle">2005</text><text x="285.3" y="591" font-family="Liberation Sans, sans-serif" font-weight="bold" font-size="9.2" text-anchor="middle">2010</text><text x="228.9" y="550.6" font-family="Liberation Sans, sans-serif" font-weight="bold" font-size="10.2" stroke="#000" stroke-width="0.25" text-anchor="middle" textLength="104.4" lengthAdjust="spacingAndGlyphs">y = -0.0128x + 24.772</text><text x="228.9" y="564.8" font-family="Liberation Sans, sans-serif" font-weight="bold" font-size="10.2" stroke="#000" stroke-width="0.25" text-anchor="middle" textLength="54.9" lengthAdjust="spacingAndGlyphs">R<tspan font-size="6.6" dy="-3.6">2</tspan><tspan dy="3.6"> =  0.5391</tspan></text><text transform="translate(10.8,495) rotate(-90)" font-family="Liberation Serif, serif" font-weight="bold" font-size="13" stroke="#000" stroke-width="0.3" text-anchor="middle" textLength="173.8" lengthAdjust="spacingAndGlyphs">Sea Surface Temperature (<tspan font-size="10" dy="-0.5">°</tspan><tspan dx="-0.6" dy="0.5">C</tspan>)</text></g>
<g><line x1="349.5" y1="453.95" x2="589.7" y2="453.95" stroke="#6e6e6e" stroke-width="1.6" stroke-dasharray="5.12 3.41" stroke-dashoffset="0.53"/><line x1="349.5" y1="493.9" x2="589.7" y2="493.9" stroke="#6e6e6e" stroke-width="1.6" stroke-dasharray="5.12 3.41" stroke-dashoffset="0.53"/><line x1="349.5" y1="533.85" x2="589.7" y2="533.85" stroke="#6e6e6e" stroke-width="1.6" stroke-dasharray="5.12 3.41" stroke-dashoffset="0.53"/><line x1="346.3" y1="414" x2="349.5" y2="414" stroke="#000" stroke-width="2"/><line x1="346.3" y1="453.95" x2="349.5" y2="453.95" stroke="#000" stroke-width="2"/><line x1="346.3" y1="493.9" x2="349.5" y2="493.9" stroke="#000" stroke-width="2"/><line x1="346.3" y1="533.85" x2="349.5" y2="533.85" stroke="#000" stroke-width="2"/><line x1="346.3" y1="573.8" x2="349.5" y2="573.8" stroke="#000" stroke-width="2"/><line x1="349.5" y1="573.8" x2="349.5" y2="576.8" stroke="#000" stroke-width="1.7"/><line x1="389.62" y1="573.8" x2="389.62" y2="576.8" stroke="#000" stroke-width="1.7"/><line x1="429.73" y1="573.8" x2="429.73" y2="576.8" stroke="#000" stroke-width="1.7"/><line x1="469.85" y1="573.8" x2="469.85" y2="576.8" stroke="#000" stroke-width="1.7"/><line x1="509.97" y1="573.8" x2="509.97" y2="576.8" stroke="#000" stroke-width="1.7"/><line x1="550.08" y1="573.8" x2="550.08" y2="576.8" stroke="#000" stroke-width="1.7"/><line x1="590.2" y1="573.8" x2="590.2" y2="576.8" stroke="#000" stroke-width="1.7"/><path d="M365.55,484.71 C366.88,480.02 370.9,455.71 373.57,456.55 C376.24,457.38 378.92,484.31 381.59,489.71 C383.38,493.32 386.94,487.97 389.62,488.91 C392.29,489.84 394.97,495.7 397.64,495.3 C400.31,494.9 402.99,487.31 405.66,486.51 C408.34,485.71 411.01,490.37 413.69,490.5 C416.36,490.64 419.04,489.74 421.71,487.31 C424.38,484.88 427.06,476.56 429.73,475.92 C432.41,475.29 435.08,486.68 437.76,483.51 C440.43,480.35 443.11,457.71 445.78,456.95 C448.45,456.18 451.13,472.29 453.8,478.92 C456.48,485.54 459.15,497 461.83,496.7 C464.5,496.4 467.18,480.82 469.85,477.12 C472.32,473.71 475.59,470.98 477.87,474.52 C480.55,478.69 483.22,498.86 485.9,502.09 C488.57,505.32 491.25,497.2 493.92,493.9 C496.59,490.6 499.27,482.55 501.94,482.31 C504.62,482.08 507.29,494.3 509.97,492.5 C512.64,490.7 515.32,470 517.99,471.53 C520.66,473.06 523.34,499.59 526.01,501.69 C528.69,503.79 531.36,492.37 534.04,484.11 C536.71,475.86 539.39,455.22 542.06,452.15 C544.73,449.09 547.41,458.61 550.08,465.74 C552.76,472.86 555.43,487.81 558.11,494.9 C560.78,501.99 563.46,507.18 566.13,508.28 C568.8,509.38 572.82,502.62 574.15,501.49" fill="none" stroke="#0026d6" stroke-width="2.15" stroke-linejoin="round"/><rect x="363.65" y="482.81" width="3.8" height="3.8" fill="#0026d6"/><rect x="371.67" y="454.65" width="3.8" height="3.8" fill="#0026d6"/><rect x="379.69" y="487.81" width="3.8" height="3.8" fill="#0026d6"/><rect x="387.72" y="487.01" width="3.8" height="3.8" fill="#0026d6"/><rect x="395.74" y="493.4" width="3.8" height="3.8" fill="#0026d6"/><rect x="403.76" y="484.61" width="3.8" height="3.8" fill="#0026d6"/><rect x="411.79" y="488.6" width="3.8" height="3.8" fill="#0026d6"/><rect x="419.81" y="485.41" width="3.8" height="3.8" fill="#0026d6"/><rect x="427.83" y="474.02" width="3.8" height="3.8" fill="#0026d6"/><rect x="435.86" y="481.61" width="3.8" height="3.8" fill="#0026d6"/><rect x="443.88" y="455.05" width="3.8" height="3.8" fill="#0026d6"/><rect x="451.9" y="477.02" width="3.8" height="3.8" fill="#0026d6"/><rect x="459.93" y="494.8" width="3.8" height="3.8" fill="#0026d6"/><rect x="467.95" y="475.22" width="3.8" height="3.8" fill="#0026d6"/><rect x="475.97" y="472.62" width="3.8" height="3.8" fill="#0026d6"/><rect x="484" y="500.19" width="3.8" height="3.8" fill="#0026d6"/><rect x="492.02" y="492" width="3.8" height="3.8" fill="#0026d6"/><rect x="500.04" y="480.41" width="3.8" height="3.8" fill="#0026d6"/><rect x="508.07" y="490.6" width="3.8" height="3.8" fill="#0026d6"/><rect x="516.09" y="469.63" width="3.8" height="3.8" fill="#0026d6"/><rect x="524.11" y="499.79" width="3.8" height="3.8" fill="#0026d6"/><rect x="532.14" y="482.21" width="3.8" height="3.8" fill="#0026d6"/><rect x="540.16" y="450.25" width="3.8" height="3.8" fill="#0026d6"/><rect x="548.18" y="463.84" width="3.8" height="3.8" fill="#0026d6"/><rect x="556.21" y="493" width="3.8" height="3.8" fill="#0026d6"/><rect x="564.23" y="506.38" width="3.8" height="3.8" fill="#0026d6"/><rect x="572.25" y="499.59" width="3.8" height="3.8" fill="#0026d6"/><line x1="365.55" y1="480.68" x2="574.15" y2="487.95" stroke="#ff0000" stroke-width="1.75"/><rect x="349.5" y="414" width="240.7" height="159.8" fill="none" stroke="#000" stroke-width="1.85"/><text x="339.5" y="416.6" font-family="Liberation Sans, sans-serif" font-weight="bold" font-size="9.6" text-anchor="end">-0.8</text><text x="339.5" y="456.55" font-family="Liberation Sans, sans-serif" font-weight="bold" font-size="9.6" text-anchor="end">-1</text><text x="339.5" y="496.5" font-family="Liberation Sans, sans-serif" font-weight="bold" font-size="9.6" text-anchor="end">-1.2</text><text x="339.5" y="536.45" font-family="Liberation Sans, sans-serif" font-weight="bold" font-size="9.6" text-anchor="end">-1.4</text><text x="339.5" y="576.4" font-family="Liberation Sans, sans-serif" font-weight="bold" font-size="9.6" text-anchor="end">-1.6</text><text x="349.5" y="589.8" font-family="Liberation Sans, sans-serif" font-weight="bold" font-size="9.2" text-anchor="middle">1980</text><text x="389.62" y="589.8" font-family="Liberation Sans, sans-serif" font-weight="bold" font-size="9.2" text-anchor="middle">1985</text><text x="429.73" y="589.8" font-family="Liberation Sans, sans-serif" font-weight="bold" font-size="9.2" text-anchor="middle">1990</text><text x="469.85" y="589.8" font-family="Liberation Sans, sans-serif" font-weight="bold" font-size="9.2" text-anchor="middle">1995</text><text x="509.97" y="589.8" font-family="Liberation Sans, sans-serif" font-weight="bold" font-size="9.2" text-anchor="middle">2000</text><text x="550.08" y="589.8" font-family="Liberation Sans, sans-serif" font-weight="bold" font-size="9.2" text-anchor="middle">2005</text><text x="590.2" y="589.8" font-family="Liberation Sans, sans-serif" font-weight="bold" font-size="9.2" text-anchor="middle">2010</text><text x="536.8" y="545.5" font-family="Liberation Sans, sans-serif" font-weight="bold" font-size="10.2" stroke="#000" stroke-width="0.25" text-anchor="middle" textLength="97.3" lengthAdjust="spacingAndGlyphs">y = -0.0014x + 1.641</text><text x="536.8" y="559.7" font-family="Liberation Sans, sans-serif" font-weight="bold" font-size="10.2" stroke="#000" stroke-width="0.25" text-anchor="middle" textLength="54.5" lengthAdjust="spacingAndGlyphs">R<tspan font-size="6.6" dy="-3.6">2</tspan><tspan dy="3.6"> =  0.0244</tspan></text><text transform="translate(316.9,495) rotate(-90)" font-family="Liberation Serif, serif" font-weight="bold" font-size="13" stroke="#000" stroke-width="0.3" text-anchor="middle" textLength="173.8" lengthAdjust="spacingAndGlyphs">Sea Surface Temperature (<tspan font-size="10" dy="-0.5">°</tspan><tspan dx="-0.6" dy="0.5">C</tspan>)</text></g>
</svg></body></html>
